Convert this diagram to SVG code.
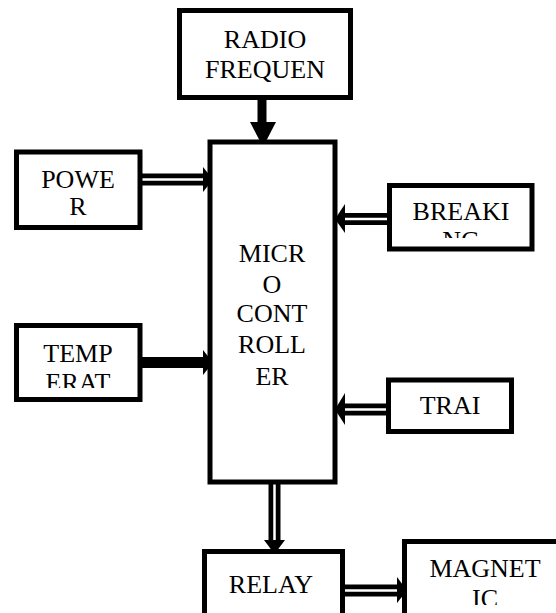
<svg xmlns="http://www.w3.org/2000/svg" width="556" height="613" viewBox="0 0 556 613">
<style>
.box{fill:#fff;stroke:#000;stroke-width:5}
.t{font-family:"Liberation Serif","Times New Roman",serif;font-size:26px;fill:#000;text-anchor:middle}
.dbl{stroke:#000;stroke-width:12;fill:none}
.gap{stroke:#fff;stroke-width:2.5;fill:none}
.sol{stroke:#000;fill:none}
.hd{fill:#000}
</style>
<defs>
<clipPath id="cTemp"><rect x="0" y="320" width="150" height="68"/></clipPath>
<clipPath id="cBreak"><rect x="385" y="180" width="150" height="58"/></clipPath>
<clipPath id="cMag"><rect x="400" y="540" width="156" height="65"/></clipPath>
</defs>
<rect width="556" height="613" fill="#fff"/>
<g id="connectors">
<line class="sol" x1="262" y1="99" x2="262" y2="124" stroke-width="9"/>
<polygon class="hd" points="250,122 276,122 263,147"/>
<line class="dbl" x1="142" y1="179.5" x2="205" y2="179.5"/>
<line class="gap" x1="142" y1="179.5" x2="205" y2="179.5"/>
<polygon class="hd" points="203,167 213,179.5 203,192"/>
<line class="sol" x1="142" y1="362.5" x2="205" y2="362.5" stroke-width="11"/>
<polygon class="hd" points="203,350 213,362.5 203,375"/>
<line class="dbl" x1="388" y1="219" x2="343" y2="219"/>
<line class="gap" x1="388" y1="219" x2="343" y2="219"/>
<polygon class="hd" points="345,204 335,219 345,233"/>
<line class="dbl" x1="387" y1="409.5" x2="343" y2="409.5"/>
<line class="gap" x1="387" y1="409.5" x2="343" y2="409.5"/>
<polygon class="hd" points="345,393 335,409.5 345,425"/>
<line class="dbl" x1="274.5" y1="484" x2="274.5" y2="542"/>
<line class="gap" x1="274.5" y1="484" x2="274.5" y2="542"/>
<polygon class="hd" points="264,540 285,540 274.5,554"/>
<line class="dbl" x1="344" y1="590.5" x2="399" y2="590.5"/>
<line class="gap" x1="344" y1="590.5" x2="399" y2="590.5"/>
<polygon class="hd" points="397,577 407,590.5 397,603"/>
</g>
<g id="radio">
<rect class="box" x="179.5" y="10.5" width="171" height="87"/>
<text class="t" x="265" y="48">RADIO</text>
<text class="t" x="265" y="78">FREQUEN</text>
</g>
<g id="micro">
<rect class="box" x="210" y="142" width="125" height="340"/>
<text class="t" x="272" y="262">MICR</text>
<text class="t" x="272" y="293">O</text>
<text class="t" x="272" y="322">CONT</text>
<text class="t" x="272" y="353">ROLL</text>
<text class="t" x="272" y="385">ER</text>
</g>
<g id="power">
<rect class="box" x="16.5" y="152" width="123.5" height="75.5"/>
<text class="t" x="78" y="188">POWE</text>
<text class="t" x="78" y="215">R</text>
</g>
<g id="temp">
<rect class="box" x="16.5" y="325.5" width="123.5" height="74"/>
<text class="t" x="78" y="362">TEMP</text>
<text class="t" x="78" y="391" clip-path="url(#cTemp)">ERAT</text>
</g>
<g id="breaking">
<rect class="box" x="389.5" y="185.5" width="142.5" height="63.5"/>
<text class="t" x="461" y="220">BREAKI</text>
<text class="t" x="461" y="249" clip-path="url(#cBreak)">NG</text>
</g>
<g id="trai">
<rect class="box" x="388.5" y="380" width="123" height="51.5"/>
<text class="t" x="450" y="414">TRAI</text>
</g>
<g id="relay">
<rect class="box" x="204.5" y="551.5" width="138" height="80"/>
<text class="t" x="271" y="593">RELAY</text>
</g>
<g id="magnetic">
<rect class="box" x="404.5" y="541.5" width="170" height="90"/>
<text class="t" x="485" y="577">MAGNET</text>
<text class="t" x="485" y="607" clip-path="url(#cMag)">IC</text>
</g>
</svg>
